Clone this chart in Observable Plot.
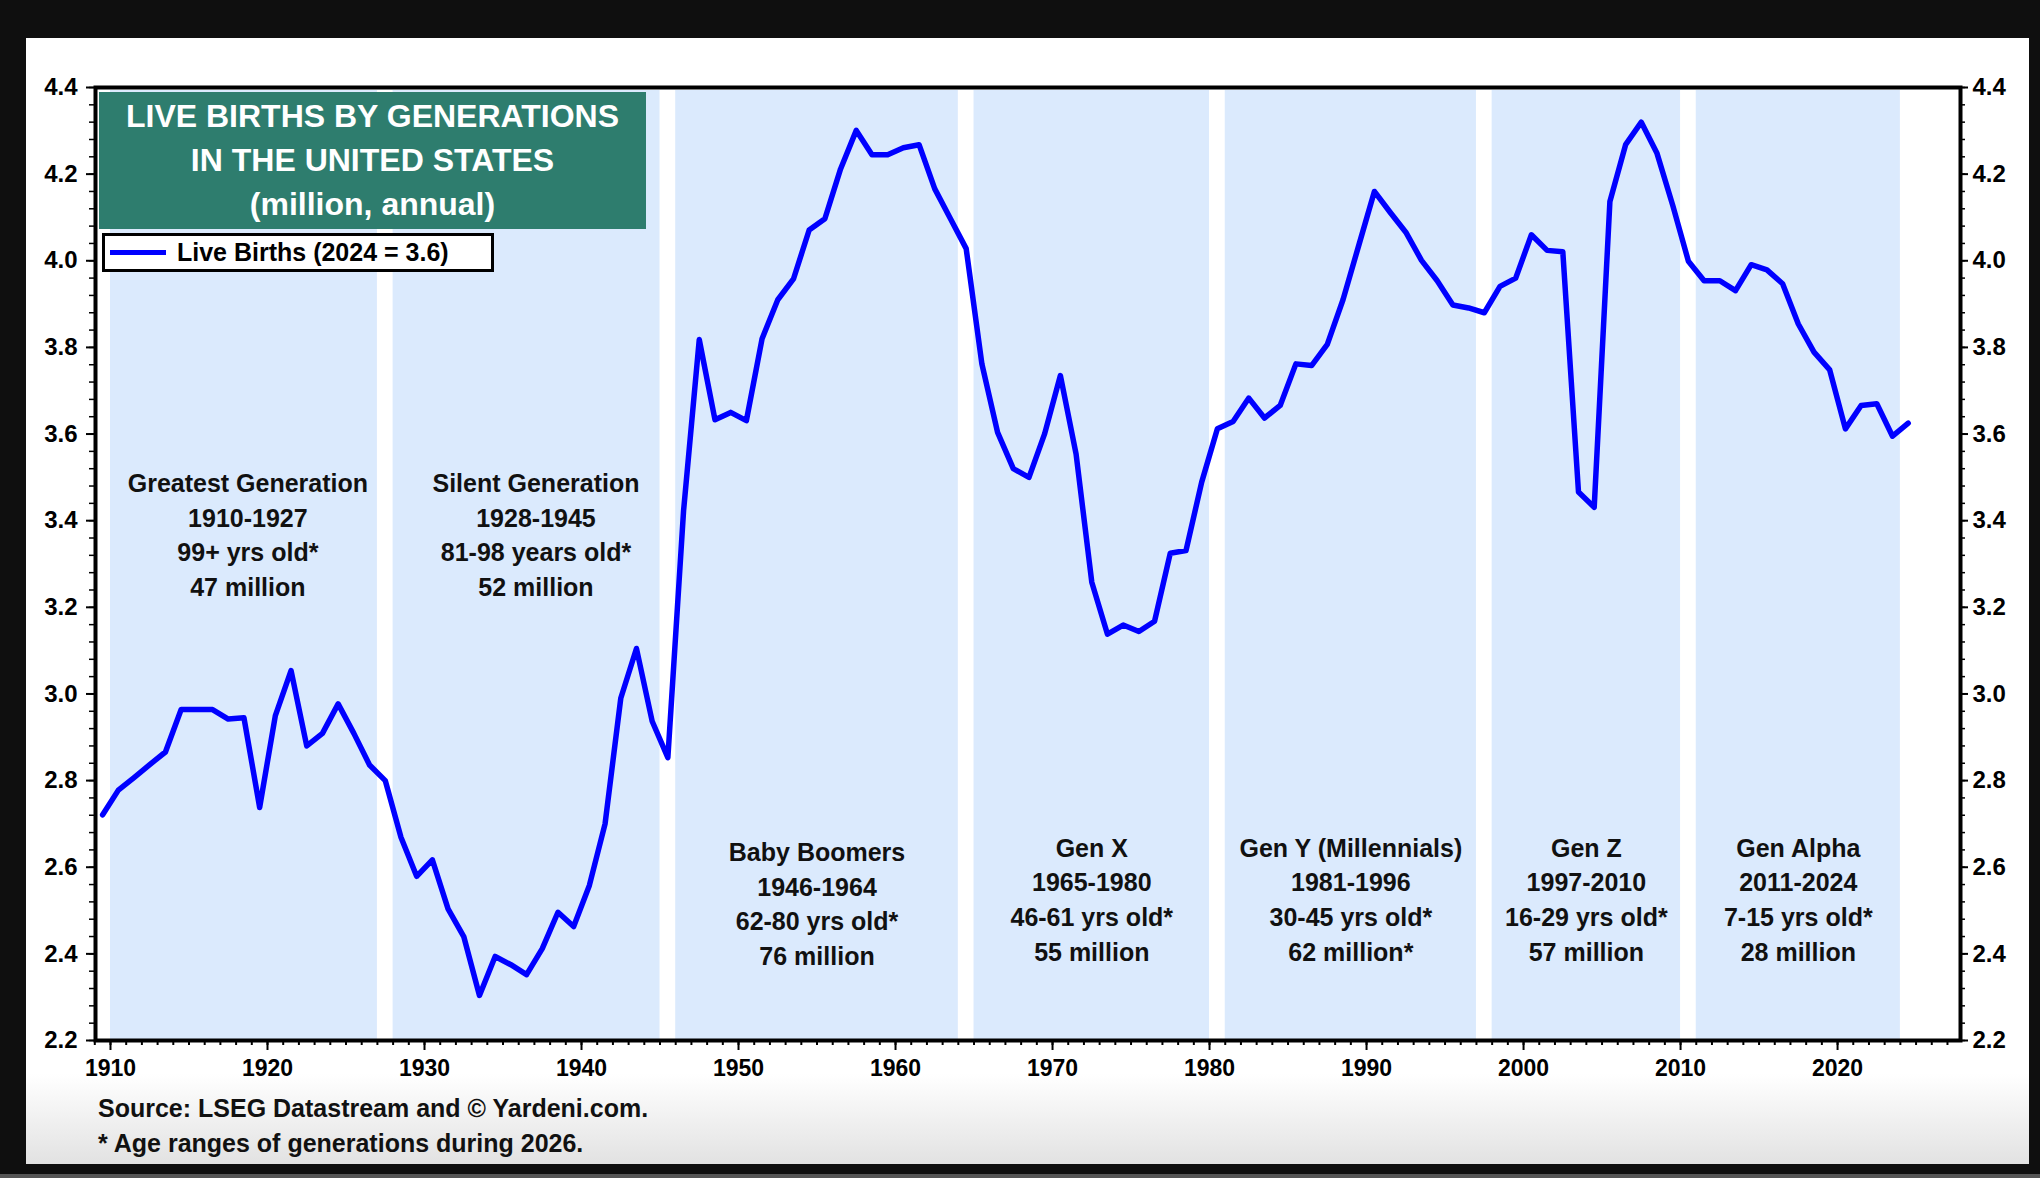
<!DOCTYPE html>
<html>
<head>
<meta charset="utf-8">
<script src="https://cdn.jsdelivr.net/npm/d3@7"></script>
<script src="https://cdn.jsdelivr.net/npm/@observablehq/plot@0.6"></script>
<style>
  html, body { margin: 0; padding: 0; background: #0f0f0f; }
  #page { position: relative; width: 2040px; height: 1178px; overflow: hidden; background: #0f0f0f;
          font-family: "Liberation Sans", Arial, Helvetica, sans-serif; }
  #card { position: absolute; left: 26px; top: 38px; width: 2003px; height: 1126px;
          background: linear-gradient(to bottom, #ffffff 0%, #ffffff 92%, #e2e2e2 100%); }
  #bottomline { position: absolute; left: 0; top: 1174px; width: 2040px; height: 4px; background: #555; }
  #chart { position: absolute; left: 0; top: 0; }
  #title { position: absolute; left: 99px; top: 92px; width: 547px; height: 137px; background: #2e7d6e;
           color: #fff; font-weight: bold; font-size: 32px; line-height: 44px; text-align: center;
           padding-top: 2px; box-sizing: border-box; }
  #legend { position: absolute; left: 102px; top: 233px; width: 392px; height: 39px; background: #fff;
            border: 3px solid #000; box-sizing: border-box; display: flex; align-items: center;
            font-weight: bold; font-size: 25px; color: #000; }
  #legend .swatch { display: inline-block; width: 56px; height: 5px; background: #0000ff; margin-left: 5px; margin-right: 11px; }
  #caption { position: absolute; left: 98px; top: 1091px; font-weight: bold; font-size: 25px; line-height: 35px; color: #111; }
</style>
</head>
<body>
<div id="page">
  <div id="card"></div>
  <div id="bottomline"></div>
  <div id="chart"></div>
  <div id="title">LIVE BIRTHS BY GENERATIONS<br>IN THE UNITED STATES<br>(million, annual)</div>
  <div id="legend"><span class="swatch"></span><span>Live Births (2024 = 3.6)</span></div>
  <div id="caption">Source: LSEG Datastream and © Yardeni.com.<br>* Age ranges of generations during 2026.</div>
</div>
<script>
// ---- data ----
const firstYear = 1909;
const births = [
  2.721,                                                             // 1909
  2.778, 2.807, 2.837, 2.866, 2.964, 2.964, 2.964, 2.942, 2.945, 2.738, // 1910-1919
  2.950, 3.054, 2.880, 2.909, 2.977, 2.909, 2.836, 2.800, 2.669, 2.579, // 1920-1929
  2.617, 2.504, 2.440, 2.304, 2.394, 2.375, 2.352, 2.412, 2.496, 2.463, // 1930-1939
  2.558, 2.700, 2.990, 3.105, 2.937, 2.853, 3.423, 3.818, 3.633, 3.650, // 1940-1949
  3.631, 3.820, 3.910, 3.958, 4.071, 4.097, 4.212, 4.301, 4.245, 4.245, // 1950-1959
  4.261, 4.268, 4.166, 4.097, 4.028, 3.762, 3.604, 3.520, 3.500, 3.601, // 1960-1969
  3.735, 3.554, 3.258, 3.138, 3.159, 3.144, 3.168, 3.325, 3.331, 3.489, // 1970-1979
  3.612, 3.629, 3.683, 3.637, 3.666, 3.762, 3.758, 3.807, 3.910, 4.035, // 1980-1989
  4.160, 4.112, 4.066, 4.001, 3.954, 3.898, 3.891, 3.880, 3.941, 3.960, // 1990-1999
  4.060, 4.024, 4.021, 3.466, 3.431, 4.137, 4.268, 4.320, 4.248, 4.128, // 2000-2009
  3.999, 3.954, 3.954, 3.931, 3.991, 3.979, 3.947, 3.854, 3.789, 3.748, // 2010-2019
  3.612, 3.666, 3.670, 3.595, 3.625                                     // 2020-2024
];

const genNames = ["Greatest Generation", "Silent Generation", "Baby Boomers", "Gen X", "Gen Y (Millennials)", "Gen Z", "Gen Alpha"];
const genSpans = ["1910-1927", "1928-1945", "1946-1964", "1965-1980", "1981-1996", "1997-2010", "2011-2024"];
const genAges  = ["99+ yrs old*", "81-98 years old*", "62-80 yrs old*", "46-61 yrs old*", "30-45 yrs old*", "16-29 yrs old*", "7-15 yrs old*"];
const genSizes = ["47 million", "52 million", "76 million", "55 million", "62 million*", "57 million", "28 million"];
const bandStart = [1910, 1928, 1946, 1965, 1981, 1998, 2011];
const bandEnd   = [1927, 1945, 1964, 1980, 1997, 2010, 2024];

const xTickLabels = [1910, 1920, 1930, 1940, 1950, 1960, 1970, 1980, 1990, 2000, 2010, 2020];
const yTickLabels = [2.2, 2.4, 2.6, 2.8, 3.0, 3.2, 3.4, 3.6, 3.8, 4.0, 4.2, 4.4];

// ---- tables built from the arrays ----
const series = births.map((v, i) => ({year: firstYear + i, births: v}));
const gens = genNames.map((n, i) => ({
  name: n, span: genSpans[i], age: genAges[i], size: genSizes[i],
  start: bandStart[i], end: bandEnd[i]
}));
const minorYears = d3.range(1909, 2028);
const yMinor = d3.range(55, 111).map(k => +(k * 0.04).toFixed(2));

const FONT = '"Liberation Sans", Arial, Helvetica, sans-serif';

const chart = Plot.plot({
  width: 2040,
  height: 1092,
  marginLeft: 95,
  marginRight: 80,
  marginTop: 87,
  marginBottom: 52,
  style: {background: "transparent", fontFamily: FONT, fontWeight: "bold", color: "#000"},
  x: {domain: [1909.045, 2027.83], label: null},
  y: {domain: [2.2, 4.4], label: null},
  marks: [
    Plot.rect(gens, {x1: "start", x2: "end", fill: "#dbeafd", insetTop: 3}),
    Plot.axisX({ticks: minorYears, tickSize: 5, text: null, strokeWidth: 2}),
    Plot.axisX({ticks: xTickLabels, tickSize: 10, tickPadding: 9, tickFormat: d => String(d),
                fontSize: 23, fontWeight: "bold", strokeWidth: 2, fill: "#000"}),
    Plot.axisY({anchor: "left", ticks: yMinor, tickSize: 6, text: null, strokeWidth: 1.5}),
    Plot.axisY({anchor: "left", ticks: yTickLabels, tickSize: 9, tickPadding: 9, tickFormat: d => d.toFixed(1),
                fontSize: 24, fontWeight: "bold", strokeWidth: 2, fill: "#000"}),
    Plot.axisY({anchor: "right", ticks: yMinor, tickSize: 4, text: null, strokeWidth: 1.5}),
    Plot.axisY({anchor: "right", ticks: yTickLabels, tickSize: 7, tickPadding: 5, tickFormat: d => d.toFixed(1),
                fontSize: 24, fontWeight: "bold", strokeWidth: 2, fill: "#000"}),
    Plot.text(gens, {
      x: d => (d.start + d.end) / 2 + (d.start === 1928 ? 0.6 : (d.start === 1910 ? 0.25 : 0)),
      y: d => d.start < 1946 ? 3.372 : (d.start === 1946 ? 2.520 : 2.530),
      text: d => [d.name, d.span, d.age, d.size].join("\n"),
      fontSize: 25, fontWeight: "bold", lineHeight: 1.39, fill: "#111"
    }),
    Plot.line(series, {x: d => d.year + 0.5, y: "births", stroke: "#0000ff", strokeWidth: 5.5, strokeLinejoin: "round"}),
    Plot.frame({stroke: "#000", strokeWidth: 4})
  ]
});
document.getElementById("chart").appendChild(chart);
</script>
</body>
</html>
